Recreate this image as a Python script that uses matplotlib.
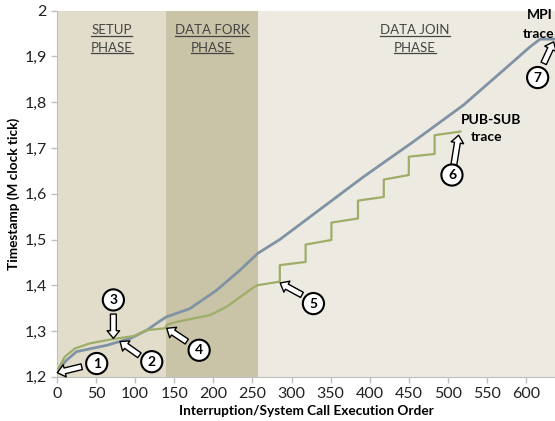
import matplotlib.pyplot as plt
import matplotlib.ticker as mticker

plt.rcParams['font.family'] = ['Lato', 'DejaVu Sans']

# phases (start, end, label)
phase_edges = [0, 140, 257, 637]
phase_names = ["SETUP\nPHASE", "DATA FORK\nPHASE", "DATA JOIN\nPHASE"]
phase_colors = ["#e1ddca", "#c9c3a7", "#edeae2"]

# MPI trace
mpi_x = [0, 12, 25, 64, 94, 115, 130, 140, 170, 204, 234, 257, 285, 392, 456, 520, 571, 605, 618, 637]
mpi_y = [1.212, 1.236, 1.255, 1.269, 1.284, 1.302, 1.320, 1.331, 1.349, 1.389, 1.433, 1.470,
         1.500, 1.637, 1.714, 1.794, 1.870, 1.921, 1.938, 1.938]

# PUB-SUB trace
ps_x = [0, 10, 23, 42, 70, 98, 115, 138, 141, 153, 196, 217, 251, 256, 285, 285, 318, 318,
        351, 351, 385, 385, 418, 418, 450, 450, 483, 483, 516]
ps_y = [1.212, 1.244, 1.262, 1.273, 1.282, 1.289, 1.302, 1.306, 1.314, 1.320, 1.335, 1.353,
        1.395, 1.400, 1.408, 1.444, 1.451, 1.489, 1.499, 1.537, 1.546, 1.585, 1.593, 1.631,
        1.641, 1.681, 1.687, 1.728, 1.736]

# numbered callouts: label, circle (x, y), arrow start, arrow tip
callouts = [
    ("1", (50.8, 1.229), (31.6, 1.222), (0.4, 1.209)),
    ("2", (121.2, 1.233), (105.4, 1.247), (80.6, 1.277)),
    ("3", (72.1, 1.368), (72.1, 1.337), (72.1, 1.284)),
    ("4", (181.8, 1.258), (166.0, 1.277), (140.4, 1.306)),
    ("5", (328.0, 1.360), (313.3, 1.379), (285.5, 1.405)),
    ("6", (505.2, 1.641), (507.3, 1.660), (513.7, 1.728)),
    ("7", (614.8, 1.854), (622.5, 1.885), (635.3, 1.932)),
]

fig = plt.figure(figsize=(5.55, 4.21), dpi=100)
ax = fig.add_axes([0.1027, 0.105, 0.8973, 0.8695])

for i in range(len(phase_names)):
    ax.axvspan(phase_edges[i], phase_edges[i + 1], color=phase_colors[i], lw=0, zorder=0)

ax.plot(mpi_x, mpi_y, color="#8093a4", lw=2, zorder=3)
ax.plot(ps_x, ps_y, color="#9eae68", lw=1.6, zorder=3)

ax.set_xlim(0, 637)
ax.set_ylim(1.2, 2.0)
ax.set_xticks(range(0, 601, 50))
ax.set_yticks([1.2, 1.3, 1.4, 1.5, 1.6, 1.7, 1.8, 1.9, 2.0])
ax.yaxis.set_major_formatter(mticker.FuncFormatter(
    lambda v, p: "2" if abs(v - 2) < 1e-9 else ("%.1f" % v).replace(".", ",")))
ax.tick_params(labelsize=11.5, colors="#bfbfbf", labelcolor="#222222", length=4, width=1)
for s in ["top", "right"]:
    ax.spines[s].set_visible(False)
for s in ["left", "bottom"]:
    ax.spines[s].set_color("#bfbfbf")

ax.set_xlabel("Interruption/System Call Execution Order", fontsize=9.8, fontweight="bold", labelpad=3)
ax.set_ylabel("Timestamp (M clock tick)", fontsize=9.8, fontweight="bold", labelpad=3)

# phase titles, underlined
phase_texts = []
for i, name in enumerate(phase_names):
    xc = (phase_edges[i] + phase_edges[i + 1]) / 2 if i < 2 else 458
    for j, line in enumerate(name.split("\n")):
        t = ax.text(xc, 1.957 - j * 0.038, line, ha="center", va="center",
                    fontsize=9.5, color="#444444", zorder=4)
        phase_texts.append(t)

fig.canvas.draw()
inv = ax.transData.inverted()
for t in phase_texts:
    bb = t.get_window_extent()
    (x0, y0), (x1, y1) = inv.transform([(bb.x0, bb.y0), (bb.x1, bb.y1)])
    ax.plot([x0, x1], [y0 + 0.001, y0 + 0.001], color="#444444", lw=0.9, zorder=4)

ax.text(516, 1.761, "PUB-SUB", fontsize=10, fontweight="bold", ha="left", va="center", zorder=5)
ax.text(529, 1.724, "trace", fontsize=10, fontweight="bold", ha="left", va="center", zorder=5)
ax.text(618, 1.990, "MPI", fontsize=10, fontweight="bold", ha="center", va="center", zorder=5)
ax.text(636, 1.950, "trace", fontsize=10, fontweight="bold", ha="right", va="center", zorder=5)

for lab, c, a0, a1 in callouts:
    ax.annotate("", xy=a1, xytext=a0, zorder=5,
                arrowprops=dict(arrowstyle="simple,head_width=0.9,head_length=0.55,tail_width=0.42",
                                fc="white", ec="black", lw=1, shrinkA=0, shrinkB=0))
    ax.text(c[0], c[1], lab, ha="center", va="center", fontsize=10, fontweight="bold", zorder=6,
            bbox=dict(boxstyle="circle,pad=0.33", fc="white", ec="black", lw=1.5))

fig.savefig("out.png", dpi=100)
